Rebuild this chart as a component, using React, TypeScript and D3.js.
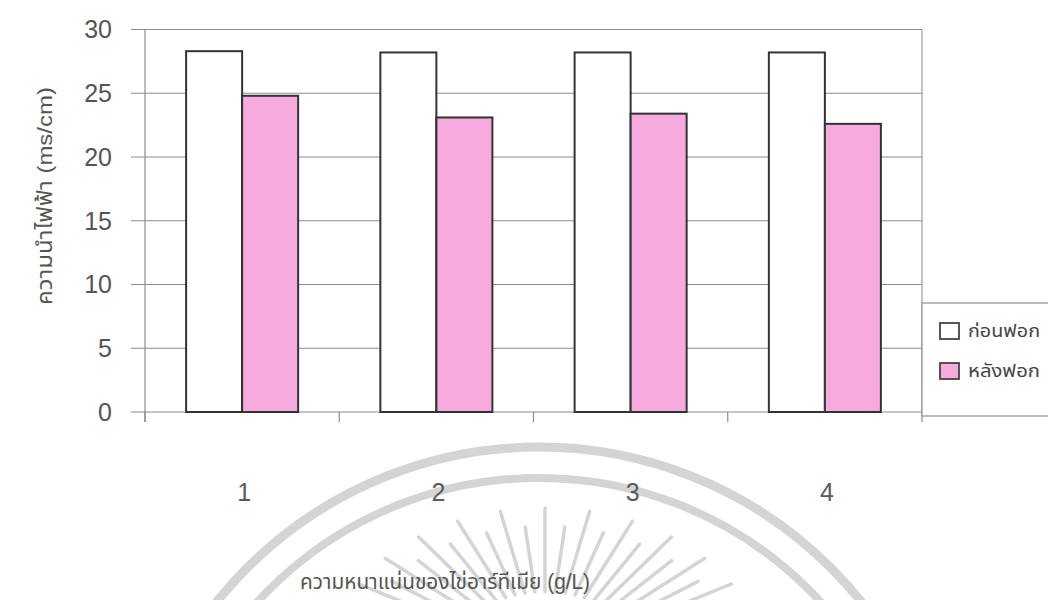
import React from "react";
import * as d3 from "d3";

// Categories: egg density (g/L)
const categories = ["1", "2", "3", "4"];
// Series labels
const seriesNames = ["ก่อนฟอก", "หลังฟอก"];
// Conductivity values (ms/cm)
const beforeValues = [28.3, 28.2, 28.2, 28.2];
const afterValues = [24.8, 23.1, 23.4, 22.6];
// Y-axis ticks
const yTicks = [0, 5, 10, 15, 20, 25, 30];

const W = 1048;
const H = 600;
const plot = { left: 145, right: 922, top: 29.5, bottom: 412 };
const seriesFill = ["#ffffff", "#f6aadd"];
const gridColor = "#8c8c8c";
const textColor = "#555555";
const fontFamily = "Arial, 'Liberation Sans', 'Noto Sans Thai', 'DejaVu Sans', sans-serif";

export default function App() {
  const x0 = d3
    .scaleBand<string>()
    .domain(categories)
    .range([plot.left, plot.right])
    .padding(0);
  const x1 = d3
    .scaleBand<string>()
    .domain(seriesNames)
    .range([0, x0.bandwidth()])
    .paddingInner(0)
    .paddingOuter(0.734);
  const y = d3.scaleLinear().domain([0, 30]).range([plot.bottom, plot.top]);

  const seriesValues = [beforeValues, afterValues];
  const boundaries = [...categories.map((c) => x0(c) as number), plot.right];

  // faint emblem behind the lower part of the figure
  const wmCx = 539;
  const wmCy = 860;
  const rayCx = 545;
  const rayCy = 660;
  const rayA = 215;
  const rayB = 152;
  const rayAngles = d3.range(-72, 72.1, 6);

  return (
    <svg
      width={W}
      height={H}
      style={{ position: "absolute", left: 0, top: 0, background: "#fff" }}
      fontFamily={fontFamily}
    >
      <rect x={0} y={0} width={W} height={H} fill="#fff" />

      {/* emblem */}
      <g stroke="#d4d4d4" fill="none">
        <circle cx={wmCx} cy={wmCy} r={413} strokeWidth={9} />
        <circle cx={wmCx} cy={wmCy} r={382} strokeWidth={8} />
        {rayAngles.map((a, i) => {
          const rad = (a * Math.PI) / 180;
          const k2 = i % 2 === 0 ? 1 : 0.88;
          const k1 = 0.45;
          return (
            <line
              key={i}
              x1={rayCx + rayA * k1 * Math.sin(rad)}
              y1={rayCy - rayB * k1 * Math.cos(rad)}
              x2={rayCx + rayA * k2 * Math.sin(rad)}
              y2={rayCy - rayB * k2 * Math.cos(rad)}
              strokeWidth={3.5}
              strokeLinecap="round"
            />
          );
        })}
      </g>

      {/* gridlines with left tick marks */}
      {yTicks.map((t) => (
        <line
          key={"g" + t}
          x1={plot.left - 14}
          x2={plot.right}
          y1={y(t)}
          y2={y(t)}
          stroke={gridColor}
          strokeWidth={1.2}
        />
      ))}
      {/* plot frame sides */}
      <line x1={plot.left} x2={plot.left} y1={plot.top} y2={plot.bottom + 10} stroke={gridColor} strokeWidth={1.2} />
      <line x1={plot.right} x2={plot.right} y1={plot.top} y2={plot.bottom} stroke="#a0a0a0" strokeWidth={1.2} />
      {/* category boundary ticks */}
      {boundaries.map((bx, i) => (
        <line key={"xt" + i} x1={bx} x2={bx} y1={plot.bottom} y2={plot.bottom + 10} stroke={gridColor} strokeWidth={1.2} />
      ))}

      {/* bars */}
      {categories.map((c, ci) =>
        seriesNames.map((s, si) => {
          const v = seriesValues[si][ci];
          const bx = (x0(c) as number) + (x1(s) as number);
          return (
            <rect
              key={c + s}
              x={bx}
              y={y(v)}
              width={x1.bandwidth()}
              height={y(0) - y(v)}
              fill={seriesFill[si]}
              stroke="#333"
              strokeWidth={2}
            />
          );
        })
      )}

      {/* y tick labels */}
      {yTicks.map((t) => (
        <text
          key={"yl" + t}
          x={112}
          y={y(t)}
          dy="0.35em"
          textAnchor="end"
          fontSize={25}
          fill={textColor}
        >
          {t}
        </text>
      ))}

      {/* x tick labels */}
      {categories.map((c) => (
        <text
          key={"xl" + c}
          x={(x0(c) as number) + x0.bandwidth() / 2 + 2}
          y={492}
          dy="0.35em"
          textAnchor="middle"
          fontSize={25}
          fill="#5a5a5a"
        >
          {c}
        </text>
      ))}

      {/* axis titles */}
      <text
        transform={`translate(45,196) rotate(-90)`}
        textAnchor="middle"
        dy="0.35em"
        fontSize={21}
        fill={textColor}
        textLength={218}
        lengthAdjust="spacingAndGlyphs"
      >
        ความนำไฟฟ้า (ms/cm)
      </text>
      <text
        x={445}
        y={581}
        textAnchor="middle"
        dy="0.35em"
        fontSize={22}
        fill={textColor}
        textLength={290}
        lengthAdjust="spacingAndGlyphs"
      >
        ความหนาแน่นของไข่อาร์ทีเมีย (g/L)
      </text>

      {/* legend */}
      <rect x={plot.right} y={303} width={150} height={113} fill="#fff" stroke="#909090" strokeWidth={1.2} />
      {seriesNames.map((s, i) => (
        <g key={"lg" + s} transform={`translate(940,${323 + i * 40})`}>
          <rect x={0} y={0} width={19} height={16} fill={seriesFill[i]} stroke="#444" strokeWidth={1.8} />
          <text
            x={28}
            y={8}
            dy="0.35em"
            fontSize={17}
            fill="#444"
            textLength={72}
            lengthAdjust="spacingAndGlyphs"
          >
            {s}
          </text>
        </g>
      ))}
    </svg>
  );
}
